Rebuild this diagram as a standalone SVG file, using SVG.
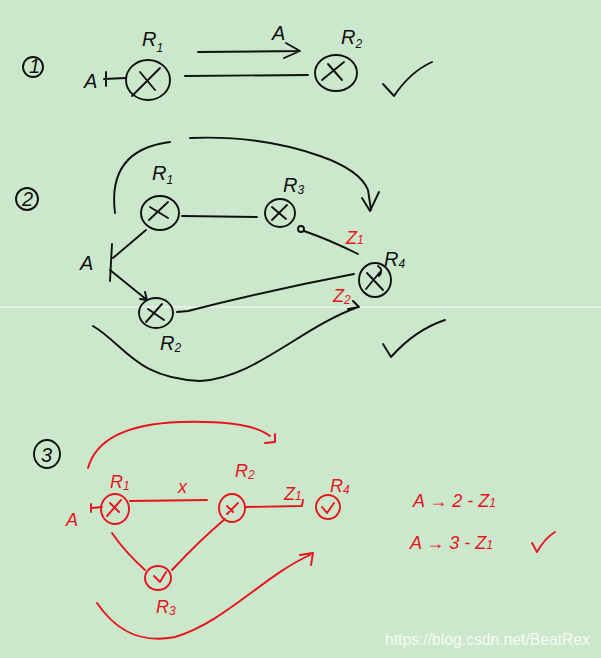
<svg xmlns="http://www.w3.org/2000/svg" width="601" height="658" viewBox="0 0 601 658">
<style>
.k{fill:none;stroke:#111;stroke-width:1.9;stroke-linecap:round;stroke-linejoin:round}
.r{fill:none;stroke:#e8141c;stroke-width:1.9;stroke-linecap:round;stroke-linejoin:round}
.tk{font-family:"Liberation Sans",sans-serif;font-style:italic;fill:#111;font-size:20px}
.tr{font-family:"Liberation Sans",sans-serif;font-style:italic;fill:#e8141c;font-size:18px}
.s{font-size:12px}
</style>
<rect width="601" height="658" fill="#cce8cc"/>
<line x1="0" y1="307" x2="601" y2="307" stroke="#e6ede6" stroke-width="2"/>

<!-- Section 1 -->
<g id="s1-label"><circle cx="33" cy="67" r="10" class="k"/><text x="29" y="73" class="tk" font-size="14" font-style="normal">1</text></g>
<g id="s1-A"><text x="84" y="88" class="tk">A</text><path d="M106 72 L106 86 M104 79 L126 78" class="k"/></g>
<g id="s1-R1"><ellipse cx="148" cy="80" rx="22" ry="20" class="k"/><path d="M132 96 L160 68 M140 72 L155 90" class="k"/><text x="142" y="46" class="tk">R<tspan class="s" dy="6">1</tspan></text></g>
<g id="s1-R2"><ellipse cx="336" cy="73" rx="21" ry="18" class="k"/><path d="M322 80 L344 62 M328 64 L342 80" class="k"/><text x="341" y="44" class="tk">R<tspan class="s" dy="4">2</tspan></text></g>
<g id="s1-conn">
<path d="M198 52 L300 51 M286 43 L300 51 L284 58" class="k"/>
<text x="272" y="40" class="tk">A</text>
<path d="M185 76 L308 75" class="k"/>
</g>
<path d="M383 84 L394 96 Q410 72 432 62" class="k"/>

<!-- Section 2 -->
<g id="s2-label"><circle cx="27" cy="199" r="11" class="k"/><text x="22" y="206" class="tk" font-size="15" font-style="normal">2</text></g>
<g id="s2-A"><text x="80" y="270" class="tk">A</text><path d="M112 244 L110 281" class="k"/></g>
<g id="s2-R1"><ellipse cx="160" cy="213" rx="19" ry="17" class="k"/><path d="M149 220 L168 202 M150 207 L168 218" class="k"/><text x="152" y="180" class="tk">R<tspan class="s" dy="4">1</tspan></text></g>
<g id="s2-R3"><ellipse cx="280" cy="213" rx="15" ry="14" class="k"/><path d="M272 220 L287 205 M272 207 L286 219" class="k"/><text x="283" y="192" class="tk">R<tspan class="s" dy="2">3</tspan></text></g>
<g id="s2-R2"><ellipse cx="156" cy="313" rx="17" ry="15" class="k"/><path d="M146 322 L162 304 M148 309 L164 320" class="k"/><text x="160" y="350" class="tk">R<tspan class="s" dy="2">2</tspan></text></g>
<g id="s2-R4"><ellipse cx="375" cy="280" rx="16" ry="17" class="k"/><path d="M366 289 L380 272 M367 273 L383 290 M378 266 Q384 270 379 276" class="k"/><text x="384" y="266" class="tk">R<tspan class="s" dy="2">4</tspan></text></g>
<g id="s2-conn">
<path d="M113 258 L146 230" class="k"/>
<path d="M110 270 L147 300 M140 299 L147 300 L145 292" class="k"/>
<path d="M182 216 L257 217" class="k"/>
<circle cx="301" cy="229" r="3" class="k"/>
<path d="M304 231 Q330 240 358 254" class="k"/>
<path d="M177 312 L188 311 Q270 290 354 274" class="k"/>
<path d="M115 213 Q107 150 170 142" class="k"/>
<path d="M190 138 Q260 135 320 156 Q360 170 368 190 L371 210 M362 198 L370 211 L379 192" class="k"/>
<path d="M93 326 C125 345 135 378 200 381 C255 378 300 328 358 307 M348 309 L359 307 L353 301" class="k"/>
<text x="346" y="244" class="tr">Z<tspan class="s" dy="0">1</tspan></text>
<text x="333" y="302" class="tr">Z<tspan class="s" dy="2">2</tspan></text>
</g>
<path d="M383 344 L391 357 Q415 330 445 320" class="k"/>

<!-- Section 3 -->
<g id="s3-label"><ellipse cx="47" cy="454" rx="13" ry="14" class="k"/><text x="41" y="462" class="tk" font-size="17" font-style="normal">3</text></g>
<g id="s3-A"><text x="66" y="526" class="tr" font-style="normal">A</text><path d="M91 504 L91 512 M92 508 L102 507" class="r"/></g>
<g id="s3-R1"><ellipse cx="115" cy="509" rx="14" ry="15" class="r"/><path d="M107 516 L121 500 M110 503 L119 512" class="r"/><text x="110" y="488" class="tr" font-size="15">R<tspan class="s" font-size="9" dy="2">1</tspan></text></g>
<g id="s3-R2"><ellipse cx="232" cy="508" rx="13" ry="14" class="r"/><path d="M227 514 L238 503 M227 506 L233 512" class="r"/><text x="235" y="477" class="tr" font-size="15">R<tspan class="s" font-size="9" dy="2">2</tspan></text></g>
<g id="s3-R3"><ellipse cx="158" cy="578" rx="13" ry="12" class="r"/><path d="M154 576 L160 582 L166 572" class="r"/><text x="156" y="613" class="tr" font-size="15">R<tspan class="s" font-size="9" dy="2">3</tspan></text></g>
<g id="s3-R4"><ellipse cx="328" cy="507" rx="12" ry="12" class="r"/><path d="M322 507 L327 513 L334 503" class="r"/><text x="330" y="492" class="tr" font-size="15">R<tspan class="s" font-size="9" dy="2">4</tspan></text></g>
<g id="s3-conn">
<path d="M130 501 L207 500" class="r"/>
<text x="178" y="493" class="tr" font-size="14" font-style="normal">x</text>
<path d="M246 507 L302 506 L303 500" class="r"/>
<text x="284" y="500" class="tr" font-size="15">Z<tspan class="s" font-size="9">1</tspan></text>
<path d="M112 533 Q125 552 145 570" class="r"/>
<path d="M172 570 Q200 540 225 519" class="r"/>
<path d="M88 468 Q100 425 180 422 Q250 420 270 436 M265 443 L275 442 L275 434" class="r"/>
<path d="M97 603 C112 625 135 645 175 637 C225 622 265 575 310 555 M300 555 L313 553 L311 565" class="r"/>
</g>
<g id="notes">
<text x="413" y="507" class="tr">A → 2 - Z<tspan class="s">1</tspan></text>
<text x="410" y="549" class="tr">A → 3 - Z<tspan class="s">1</tspan></text>
<path d="M532 543 L537 552 Q545 538 555 532" class="r" stroke-width="2.4"/>
</g>
<text x="385" y="645" font-family="Liberation Sans,sans-serif" font-size="15.7" fill="#ffffff" fill-opacity="0.85">https://blog.csdn.net/BeatRex</text>
</svg>
